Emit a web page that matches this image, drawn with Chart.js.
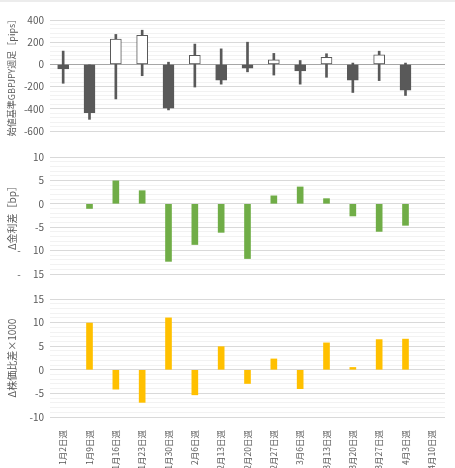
<!DOCTYPE html>
<html>
<head>
<meta charset="utf-8">
<script src="https://cdn.jsdelivr.net/npm/chart.js@4.4.1/dist/chart.umd.min.js"></script>
<style>
  html, body { margin: 0; padding: 0; background: #fff; }
  #wrap { position: relative; width: 455px; height: 468px; overflow: hidden; border-top: 2px solid #ececec; box-sizing: border-box; }
  .panel { position: absolute; left: 0; width: 455px; }
</style>
</head>
<body>
<div id="wrap">
  <div class="panel" style="top:-2px;height:140px"><canvas id="fx"></canvas></div>
  <div class="panel" style="top:138px;height:145px"><canvas id="rate"></canvas></div>
  <div class="panel" style="top:283px;height:185px"><canvas id="stock"></canvas></div>
</div>
<script>
// weeks (x categories)
const weeks = ['1月2日週', '1月9日週', '1月16日週', '1月23日週', '1月30日週', '2月6日週', '2月13日週',
  '2月20日週', '2月27日週', '3月6日週', '3月13日週', '3月20日週', '3月27日週', '4月3日週', '4月10日週'];

// GBPJPY weekly candles, pips from the week's open
const fxClose = [-40, -435, 227, 262, -395, 82, -143, -35, 41, -58, 64, -143, 87, -233, null];
const fxHigh = [120, 0, 270, 308, 20, 183, 140, 200, 99, 35, 96, 12, 119, 12, null];
const fxLow = [-170, -495, -311, -102, -410, -204, -178, -67, -96, -178, -116, -253, -146, -280, null];

// Δ interest rate differential [bp]
const rateDiff = [null, -1, 4.9, 2.8, -12.3, -8.7, -6.1, -11.7, 1.7, 3.6, 1.1, -2.6, -5.9, -4.6, null];

// Δ stock price ratio difference x1000
const stockDiff = [null, 9.9, -4.1, -6.9, 11.0, -5.3, 4.9, -2.9, 2.3, -4.0, 5.7, 0.5, 6.4, 6.5, null];

const FONT = "'Noto Sans CJK JP', 'Noto Sans', sans-serif";
const TXT = '#595959';

function yScale(min, max, minor, major, title, titleSize, fmt, zeroColor) {
  const isMajor = v => Math.abs(v / major - Math.round(v / major)) < 1e-6;
  return {
    min: min,
    max: max,
    border: { display: false },
    grid: {
      drawTicks: false,
      color: c => (zeroColor && Math.abs(c.tick.value) < 1e-6) ? zeroColor : (isMajor(c.tick.value) ? '#d9d9d9' : '#f2f2f2'),
    },
    ticks: {
      stepSize: minor,
      autoSkip: false,
      padding: 6,
      color: TXT,
      font: { family: FONT, size: 10 },
      callback: v => isMajor(v) ? fmt(Math.round(v)) : '',
    },
    title: { display: true, text: title, color: TXT, font: { family: FONT, size: titleSize }, padding: { top: 6, bottom: 0 } },
    afterFit: s => { s.width = 50; s.paddingTop = 0; s.paddingBottom = 0; },
  };
}

const hiddenX = { display: false, offset: true };

const base = {
  responsive: true,
  maintainAspectRatio: false,
  animation: false,
  devicePixelRatio: 1,
  plugins: { legend: { display: false }, tooltip: { enabled: false } },
};

// top: candlesticks
new Chart(document.getElementById('fx'), {
  type: 'bar',
  data: {
    labels: weeks,
    datasets: [
      {
        data: fxClose.map(c => c === null ? null : [0, c]),
        backgroundColor: fxClose.map(c => c < 0 ? '#595959' : '#ffffff'),
        borderColor: '#595959',
        borderWidth: 1,
        borderSkipped: false,
        barThickness: 11,
        grouped: false,
        order: 0,
      },
      {
        data: fxHigh.map((h, i) => h === null ? null : [fxLow[i], h]),
        backgroundColor: '#595959',
        barThickness: 2,
        grouped: false,
        order: 1,
      },
    ],
  },
  options: {
    ...base,
    layout: { padding: { top: 20, bottom: 9, left: 0, right: 10 } },
    scales: {
      x: hiddenX,
      y: yScale(-600, 400, 40, 200, '始値基準GBPJPY週足［pips］', 9, v => String(v), '#a6a6a6'),
    },
  },
});

// middle: rate differential
new Chart(document.getElementById('rate'), {
  type: 'bar',
  data: {
    labels: weeks,
    datasets: [{ data: rateDiff, backgroundColor: '#70ad47', barThickness: 6 }],
  },
  options: {
    ...base,
    layout: { padding: { top: 17, bottom: 11, left: 0, right: 10 } },
    scales: {
      x: hiddenX,
      y: yScale(-15, 10, 1, 5, 'Δ金利差［bp］', 10, v => v <= -10 ? '-\u2003 ' + Math.abs(v) : String(v)),
    },
  },
});

// bottom: stock ratio difference
new Chart(document.getElementById('stock'), {
  type: 'bar',
  data: {
    labels: weeks,
    datasets: [{ data: stockDiff, backgroundColor: '#ffc000', barThickness: 6 }],
  },
  options: {
    ...base,
    layout: { padding: { top: 14, bottom: 0, left: 0, right: 10 } },
    scales: {
      x: {
        offset: true,
        border: { display: false },
        grid: { display: false },
        ticks: { minRotation: 90, maxRotation: 90, autoSkip: false, padding: 5, color: TXT, font: { family: FONT, size: 8.5 } },
        afterFit: s => { s.height = 53; },
      },
      y: yScale(-10, 15, 1, 5, 'Δ株価比差×1000', 10, v => String(v)),
    },
  },
});
</script>
</body>
</html>
